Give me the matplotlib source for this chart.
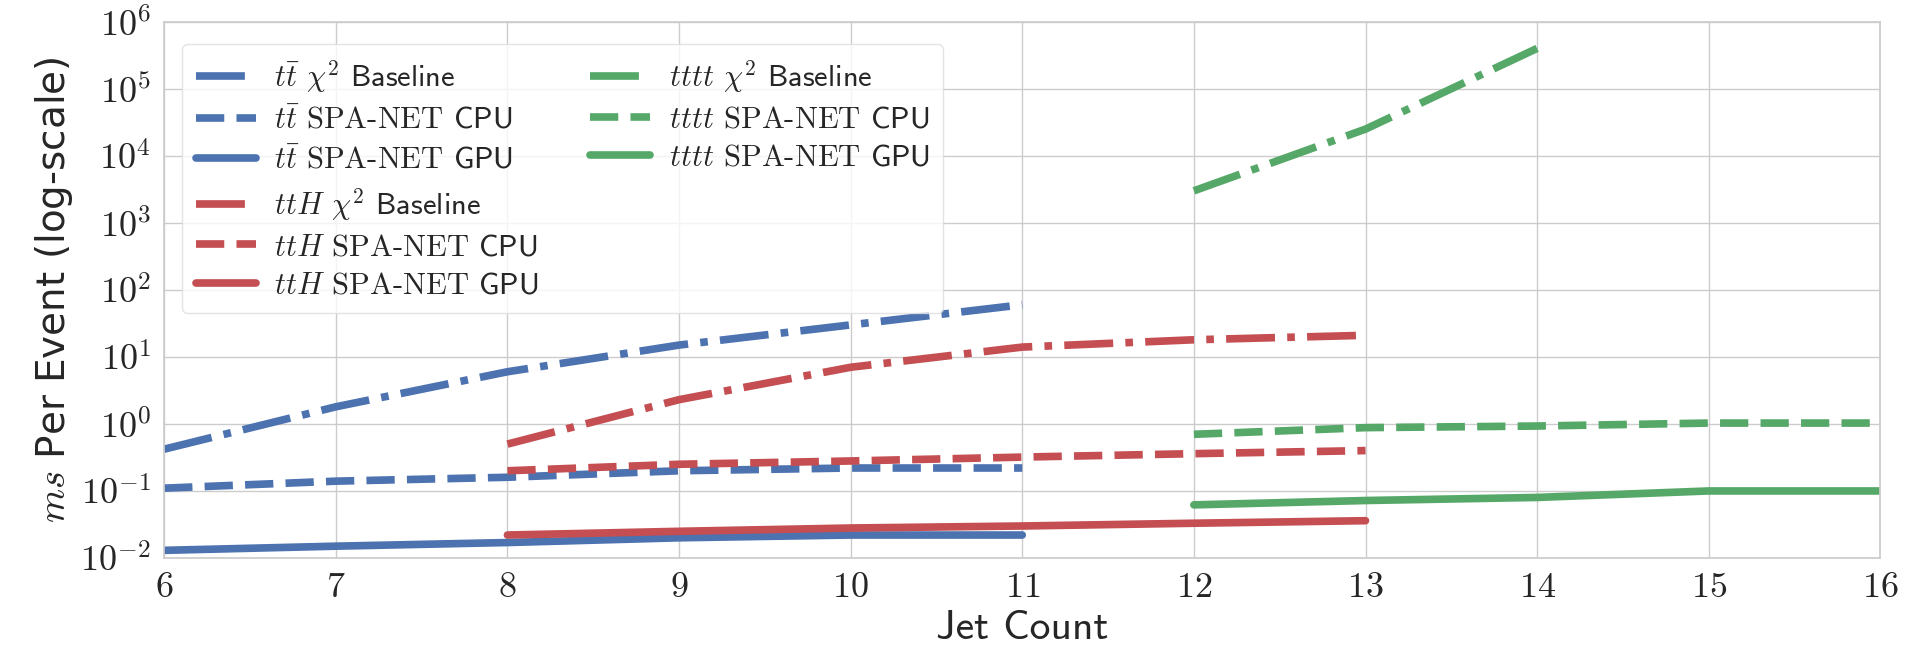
import numpy as np
import matplotlib
matplotlib.use('Agg')
import matplotlib.pyplot as plt
from matplotlib.lines import Line2D
import seaborn as sns

# Datos
jets_tt = [6, 7, 8, 9, 10, 11]
tt_chi2 = [0.42, 1.8, 6.0, 15.0, 30.0, 60.0]
tt_cpu = [0.11, 0.14, 0.16, 0.20, 0.22, 0.22]
tt_gpu = [0.013, 0.015, 0.017, 0.020, 0.022, 0.022]

jets_tth = [8, 9, 10, 11, 12, 13]
tth_chi2 = [0.5, 2.3, 7.0, 14.0, 18.0, 21.0]
tth_cpu = [0.20, 0.25, 0.28, 0.32, 0.36, 0.40]
tth_gpu = [0.022, 0.025, 0.028, 0.030, 0.033, 0.036]

jets_tttt_chi2 = [12, 13, 14]
tttt_chi2 = [3000, 25000, 400000]
jets_tttt = [12, 13, 14, 15, 16]
tttt_cpu = [0.70, 0.88, 0.93, 1.03, 1.03]
tttt_gpu = [0.062, 0.072, 0.080, 0.10, 0.10]

sns.set_theme(style='whitegrid')
plt.rcParams['font.family'] = ['cmss10', 'DejaVu Sans']
plt.rcParams['mathtext.fontset'] = 'cm'

azul = '#4C72B0'
rojo = '#C44E52'
verde = '#55A868'
lw = 5.5

fig, ax = plt.subplots(figsize=(19.09, 6.58), dpi=100)
fig.subplots_adjust(left=0.086, right=0.985, top=0.967, bottom=0.152)

cpu = r'$\mathrm{SPA}$-$\mathrm{NET}$ CPU'
gpu = r'$\mathrm{SPA}$-$\mathrm{NET}$ GPU'
ax.plot(jets_tt, tt_chi2, '-.', color=azul, lw=lw, label=r'$t\bar{t}$ $\chi^2$ Baseline')
ax.plot(jets_tt, tt_cpu, '--', color=azul, lw=lw, label=r'$t\bar{t}$ ' + cpu)
ax.plot(jets_tt, tt_gpu, '-', color=azul, lw=lw, label=r'$t\bar{t}$ ' + gpu)
ax.plot(jets_tth, tth_chi2, '-.', color=rojo, lw=lw, label=r'$ttH$ $\chi^2$ Baseline')
ax.plot(jets_tth, tth_cpu, '--', color=rojo, lw=lw, label=r'$ttH$ ' + cpu)
ax.plot(jets_tth, tth_gpu, '-', color=rojo, lw=lw, label=r'$ttH$ ' + gpu)
ax.plot(jets_tttt_chi2, tttt_chi2, '-.', color=verde, lw=lw, label=r'$tttt$ $\chi^2$ Baseline')
ax.plot(jets_tttt, tttt_cpu, '--', color=verde, lw=lw, label=r'$tttt$ ' + cpu)
ax.plot(jets_tttt, tttt_gpu, '-', color=verde, lw=lw, label=r'$tttt$ ' + gpu)

ax.set_yscale('log')
ax.set_xlim(6, 16)
ax.set_ylim(1e-2, 1e6)
ax.set_xticks(range(6, 17))
ax.set_yticks([10.0**k for k in range(-2, 7)])
ax.minorticks_off()
ax.tick_params(labelsize=26)
ax.xaxis.set_major_formatter(matplotlib.ticker.FuncFormatter(lambda v, p: r'$%d$' % v))
ax.yaxis.set_major_formatter(matplotlib.ticker.FuncFormatter(
    lambda v, p: r'$10^{%d}$' % int(round(np.log10(v)))))

ax.set_xlabel('Jet Count', fontsize=30, labelpad=4)
ax.set_ylabel(r'$ms$ Per Event (log-scale)', fontsize=28, family='DejaVu Sans')

# columna 1 con 6 entradas, columna 2 con 3 (rellenar con vacíos)
handles, labels = ax.get_legend_handles_labels()
vacio = Line2D([], [], color='none')
handles = handles + [vacio] * 3
labels = labels + [''] * 3
leg = ax.legend(handles, labels, loc='upper left', ncol=2, fontsize=22, frameon=True,
                bbox_to_anchor=(0.0105, 0.958), borderaxespad=0, handlelength=1.96,
                handletextpad=0.6, columnspacing=1.7, labelspacing=0.36, borderpad=0.45)
leg.get_frame().set_edgecolor('#dddddd')

plt.savefig('out.png')
